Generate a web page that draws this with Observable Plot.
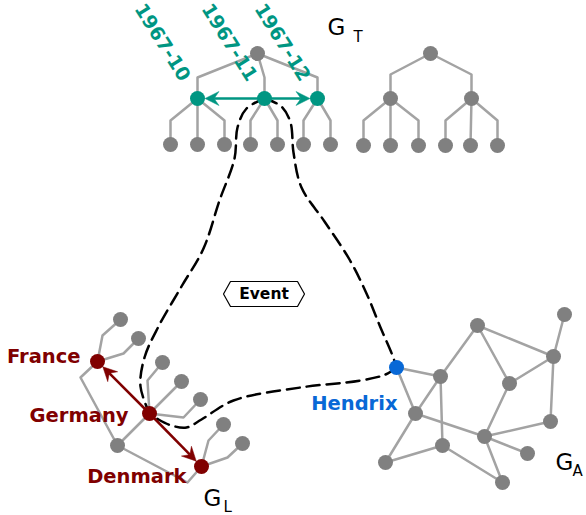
<!DOCTYPE html>
<html><head><meta charset="utf-8">
<script src="https://cdn.jsdelivr.net/npm/d3@7"></script>
<script src="https://cdn.jsdelivr.net/npm/@observablehq/plot@0.6"></script>
<style>body{margin:0;background:#fff}</style>
</head><body><div id="chart"></div>
<script>
// ---- Data (diagram coordinates are the data of this chart) ----
const teal = "#009682", darkRed = "#800000", blue = "#0868d6", nodeGray = "#808080", edgeGray = "#a3a3a3";

// Time tree G_T
const gtEventNodes = [[197,98],[264,98],[317,98]];
const gtEventLabels = ["1967-10","1967-11","1967-12"];
const gtLabelPos = [[185,79],[252,79],[305,79]];
const gtOtherNodes = [[257,53],[170,144],[197,144],[224,144],[250,144],[277,144],[303,144],[330,144],
  [430,53],[390,98],[471,98],[363,145],[390,145],[418,145],[445,145],[470,145],[497,145]];
const gtEdges = [
  [[257,53],[197,77],[197,98]], [[257,53],[264,77],[264,98]], [[257,53],[317,77],[317,98]],
  [[197,98],[170,120],[170,144]], [[197,98],[197,144]], [[197,98],[224,120],[224,144]],
  [[264,98],[250,120],[250,144]], [[264,98],[277,120],[277,144]],
  [[317,98],[303,120],[303,144]], [[317,98],[330,120],[330,144]],
  [[430,53],[390,74],[390,98]], [[430,53],[471,74],[471,98]],
  [[390,98],[363,120],[363,145]], [[390,98],[390,145]], [[390,98],[418,120],[418,145]],
  [[471,98],[445,120],[445,145]], [[471,98],[470,145]], [[471,98],[497,120],[497,145]]
];
const gtArrows = [[[264,98],[197,98]], [[264,98],[317,98]]];

// Location graph G_L
const glEventNodes = [[97,361],[149,413],[201,466]];
const glEventLabels = ["France","Germany","Denmark"];
const glLabelPos = [[80,356],[128,415],[186,476]];
const glOtherNodes = [[120,319],[138,338],[162,362],[181,381],[200,399],[117,445],[223,424],[242,443]];
const glEdges = [
  [[97,361],[102,335],[120,319]], [[97,361],[123,353],[138,338]], [[97,361],[80,377],[117,445]],
  [[149,413],[117,445]], [[117,445],[187,482],[201,466]],
  [[149,413],[147,380],[162,362]], [[149,413],[181,381]], [[149,413],[183,417],[200,399]],
  [[201,466],[208,440],[223,424]], [[201,466],[227,457],[242,443]]
];
const glArrows = [[[149,413],[97,361]], [[149,413],[201,466]]];

// Actor graph G_A
const gaEventNode = [[396,367]];
const gaEventLabel = ["Hendrix"];
const gaLabelPos = [[397,403]];
const gaOtherNodes = [[477,325],[564,314],[553,356],[440,376],[509,383],[415,413],[550,421],[484,436],[442,445],[527,453],[385,462],[502,482]];
const gaEdges = [
  [[396,367],[440,376]], [[396,367],[415,413]], [[440,376],[477,325]], [[440,376],[442,445]],
  [[415,413],[440,376]], [[415,413],[385,462]], [[415,413],[484,436]], [[385,462],[442,445]],
  [[442,445],[502,482]], [[477,325],[509,383]], [[477,325],[553,356]], [[564,314],[553,356]],
  [[553,356],[509,383]], [[553,356],[550,421]], [[509,383],[484,436]], [[484,436],[550,421]],
  [[484,436],[527,453]], [[484,436],[502,482]]
];

// Dashed event links
const eventLinks = [
  [[264,98],[246,108],[237,127],[234,158],[219,200],[203,248],[181,286],[158,326],[144,357],[140,386],[149,413]],
  [[264,98],[281,106],[290,122],[293,152],[301,187],[324,221],[349,259],[366,293],[380,327],[392,355],[396,367]],
  [[396,367],[385,374],[360,380],[300,387],[233,400],[201,419],[186,427],[171,425],[158,419],[149,413]]
];

// Event box
const eventBox = [[223,293.5],[230,281],[297,281],[304,293.5],[297,306],[230,306],[223,293.5]];
const eventText = "Event";

// Graph names
const graphNames = [
  {g:"G", sub:"T", gp:[327,27], sp:[353,37]},
  {g:"G", sub:"L", gp:[203,498], sp:[223,507]},
  {g:"G", sub:"A", gp:[555,462], sp:[572,471]}
];

// ---- helpers to build tables ----
const toRows = (paths) => paths.flatMap((p, i) => p.map(([x, y]) => ({x, y, z: i})));
const pts = (arr) => arr.map(([x, y]) => ({x, y}));
const labeled = (pos, names) => pos.map(([x, y], i) => ({x, y, t: names[i]}));
// arrow geometry: shaft ends at the head's notch; filled barbed head stops at the node rim
const nodeR = 7.5, headL = 14, headW = 7, notch = 0.65;
function arrowParts(arr) {
  const shafts = [], heads = [];
  arr.forEach(([[x1, y1], [x2, y2]], i) => {
    const d = Math.hypot(x2 - x1, y2 - y1), ux = (x2 - x1) / d, uy = (y2 - y1) / d;
    const tx = x2 - ux * nodeR, ty = y2 - uy * nodeR;
    const bx = tx - ux * headL, by = ty - uy * headL;
    const nx = tx - ux * headL * notch, ny = ty - uy * headL * notch;
    shafts.push({x1, y1, x2: nx, y2: ny});
    [[tx, ty], [bx - uy * headW, by + ux * headW], [nx, ny], [bx + uy * headW, by - ux * headW], [tx, ty]]
      .forEach(([x, y]) => heads.push({x, y, z: i}));
  });
  return {shafts, heads};
}
const gtA = arrowParts(gtArrows), glA = arrowParts(glArrows);

const edgeStyle = {x: "x", y: "y", z: "z", stroke: edgeGray, strokeWidth: 2.5};
const boldFont = "DejaVu Sans";

const chart = Plot.plot({
  width: 586, height: 515, margin: 0,
  x: {domain: [0, 586], range: [0, 586], axis: null},
  y: {domain: [0, 515], range: [0, 515], axis: null},
  style: {background: "#fff", fontFamily: "DejaVu Sans"},
  marks: [
    Plot.line(toRows(gtEdges), edgeStyle),
    Plot.line(toRows(glEdges), edgeStyle),
    Plot.line(toRows(gaEdges), edgeStyle),
    Plot.line(toRows(eventLinks), {x: "x", y: "y", z: "z", curve: "catmull-rom", stroke: "#000", strokeWidth: 2.5, strokeDasharray: "13,7"}),
    Plot.link(gtA.shafts, {x1: "x1", y1: "y1", x2: "x2", y2: "y2", stroke: teal, strokeWidth: 2.5}),
    Plot.line(gtA.heads, {x: "x", y: "y", z: "z", fill: teal, stroke: teal, strokeWidth: 0.5}),
    Plot.link(glA.shafts, {x1: "x1", y1: "y1", x2: "x2", y2: "y2", stroke: darkRed, strokeWidth: 2.5}),
    Plot.line(glA.heads, {x: "x", y: "y", z: "z", fill: darkRed, stroke: darkRed, strokeWidth: 0.5}),
    Plot.dot(pts(gtOtherNodes), {x: "x", y: "y", r: nodeR, fill: nodeGray}),
    Plot.dot(pts(glOtherNodes), {x: "x", y: "y", r: nodeR, fill: nodeGray}),
    Plot.dot(pts(gaOtherNodes), {x: "x", y: "y", r: nodeR, fill: nodeGray}),
    Plot.dot(pts(gtEventNodes), {x: "x", y: "y", r: nodeR, fill: teal}),
    Plot.dot(pts(glEventNodes), {x: "x", y: "y", r: nodeR, fill: darkRed}),
    Plot.dot(pts(gaEventNode), {x: "x", y: "y", r: nodeR, fill: blue}),
    Plot.text(labeled(gtLabelPos, gtEventLabels), {x: "x", y: "y", text: "t", rotate: 58, textAnchor: "end", fill: teal, fontSize: 19, fontWeight: "bold", fontFamily: boldFont}),
    Plot.text(labeled(glLabelPos, glEventLabels), {x: "x", y: "y", text: "t", textAnchor: "end", fill: darkRed, fontSize: 19.5, fontWeight: "bold", fontFamily: boldFont}),
    Plot.text(labeled(gaLabelPos, gaEventLabel), {x: "x", y: "y", text: "t", textAnchor: "end", fill: blue, fontSize: 19.5, fontWeight: "bold", fontFamily: boldFont}),
    Plot.line(pts(eventBox), {x: "x", y: "y", stroke: "#000", strokeWidth: 1.2, fill: "#fff"}),
    Plot.text([{x: 263.5, y: 294, t: eventText}], {x: "x", y: "y", text: "t", fill: "#000", fontSize: 15.5, fontWeight: "bold", fontFamily: boldFont}),
    Plot.text(graphNames, {x: d => d.gp[0], y: d => d.gp[1], text: "g", textAnchor: "start", fill: "#000", fontSize: 23}),
    Plot.text(graphNames, {x: d => d.sp[0], y: d => d.sp[1], text: "sub", textAnchor: "start", fill: "#000", fontSize: 15})
  ]
});
document.getElementById("chart").append(chart);
</script>
</body></html>
